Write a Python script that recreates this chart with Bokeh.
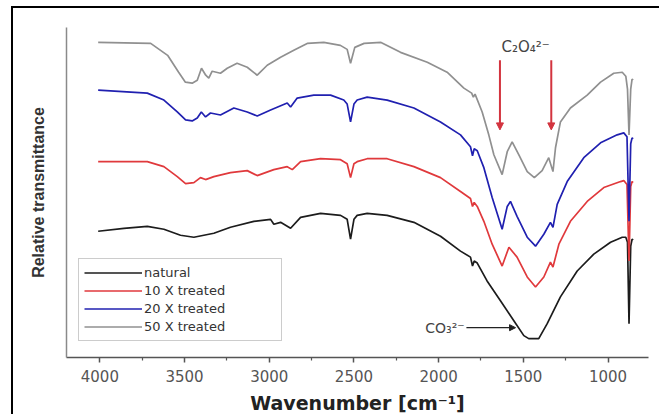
from bokeh.plotting import figure
from bokeh.models import Range1d, FixedTicker, Arrow, NormalHead, Label
from bokeh.embed import file_html
from bokeh.resources import INLINE

# ---- data ----
series_names = ["natural", "10 X treated", "20 X treated", "50 X treated"]
series_colors = ["#1c1c1c", "#e0393c", "#2020b0", "#909090"]

wn_natural = [4010, 3858, 3720, 3622, 3524, 3445, 3327, 3229, 3091, 2992, 2973, 2933, 2874, 2815,
              2697, 2579, 2540, 2520, 2500, 2481, 2422, 2304, 2146, 1989, 1871, 1812, 1800, 1790,
              1772, 1714, 1635, 1556, 1497, 1468, 1409, 1359, 1281, 1182, 1084, 985, 916, 895, 885,
              876, 866, 858, 852]
tr_natural = [127, 130, 132, 129, 123, 121, 125, 131, 137, 139, 134, 136, 130, 141,
              145, 143, 139, 119, 139, 143, 145, 143, 136, 122, 107, 101, 92, 97,
              95, 77, 57, 37, 22, 19, 19, 34, 61, 87, 104, 116, 121, 121, 116,
              34, 112, 119, 118]

wn_10x = [4010, 3720, 3622, 3543, 3494, 3445, 3406, 3376, 3327, 3229, 3130, 3071, 2973, 2894,
          2864, 2815, 2697, 2579, 2540, 2520, 2500, 2481, 2422, 2304, 2146, 1989, 1871, 1812,
          1800, 1790, 1772, 1733, 1684, 1625, 1585, 1537, 1477, 1428, 1379, 1340, 1325, 1290,
          1222, 1123, 1025, 926, 907, 888, 876, 866, 858, 852]
tr_10x = [197, 197, 192, 182, 175, 176, 181, 179, 182, 186, 188, 183, 189, 192,
          189, 197, 200, 199, 195, 181, 195, 197, 200, 200, 192, 181, 167, 160,
          152, 156, 152, 137, 114, 92, 111, 101, 81, 71, 81, 96, 91, 114,
          137, 157, 171, 177, 178, 174, 97, 172, 177, 176]

wn_20x = [4010, 3720, 3622, 3543, 3494, 3455, 3425, 3401, 3376, 3347, 3288, 3209, 3130, 3071,
          2992, 2894, 2874, 2835, 2737, 2638, 2560, 2540, 2520, 2500, 2481, 2422, 2304, 2146,
          1989, 1871, 1812, 1800, 1790, 1772, 1733, 1684, 1625, 1595, 1576, 1537, 1477, 1428,
          1379, 1340, 1325, 1300, 1241, 1143, 1044, 946, 907, 888, 876, 866, 858, 852]
tr_20x = [269, 266, 259, 247, 239, 238, 241, 247, 242, 246, 244, 251, 247, 243,
          249, 256, 252, 261, 264, 264, 259, 255, 237, 255, 259, 262, 259, 251,
          237, 224, 212, 203, 210, 208, 191, 161, 129, 152, 157, 142, 121, 112,
          124, 136, 131, 154, 177, 201, 216, 224, 226, 222, 137, 215, 221, 220]

wn_50x = [4010, 3700, 3600, 3535, 3495, 3455, 3425, 3400, 3375, 3357, 3337, 3288, 3248, 3190,
          3130, 3071, 3012, 2933, 2855, 2776, 2678, 2580, 2540, 2520, 2495, 2440, 2340, 2225,
          2067, 1950, 1851, 1805, 1795, 1785, 1743, 1704, 1674, 1625, 1595, 1566, 1527, 1477,
          1435, 1389, 1350, 1325, 1310, 1281, 1222, 1123, 1044, 966, 916, 895, 885, 876, 866,
          858, 852]
tr_50x = [317, 316, 304, 287, 277, 276, 279, 291, 284, 281, 288, 286, 291, 296,
          292, 284, 294, 302, 309, 316, 317, 314, 310, 296, 312, 316, 317, 307,
          297, 287, 271, 266, 262, 265, 247, 224, 204, 184, 207, 217, 204, 187,
          181, 188, 201, 187, 211, 237, 251, 264, 277, 286, 287, 283, 270, 224, 270,
          280, 279]

x_ticks = [4000, 3500, 3000, 2500, 2000, 1500, 1000]
x_minor_ticks = [3750, 3250, 2750, 2250, 1750, 1250]

oxalate_bands = [1638, 1335]      # C2O4 2- arrows
carbonate_arrow = [1836, 1546]    # CO3 2- arrow (from, to)

# ---- figure ----
p = figure(width=648, height=408,
           x_range=Range1d(4197, 761), y_range=Range1d(0, 332),
           output_backend="svg", toolbar_location=None,
           min_border_left=53, min_border_right=13, min_border_top=19, min_border_bottom=57)
p.styles = {"margin-left": "11px", "margin-top": "6px",
            "border-left": "2px solid black", "border-top": "2px solid black"}
p.background_fill_color = "white"
p.border_fill_color = "white"
p.outline_line_color = None
p.xgrid.grid_line_color = None
p.ygrid.grid_line_color = None

all_wn = [wn_natural, wn_10x, wn_20x, wn_50x]
all_tr = [tr_natural, tr_10x, tr_20x, tr_50x]
for wn, tr, name, col in zip(all_wn, all_tr, series_names, series_colors):
    p.line(wn, tr, line_color=col, line_width=1.7, legend_label=name)

# x axis
xa = p.xaxis[0]
xa.ticker = FixedTicker(ticks=x_ticks, minor_ticks=x_minor_ticks)
xa.axis_line_color = "#555555"
xa.axis_line_width = 1.5
xa.major_tick_line_color = "#555555"
xa.major_tick_line_width = 1.5
xa.major_tick_out = 5
xa.major_tick_in = 0
xa.minor_tick_line_color = "#555555"
xa.minor_tick_line_width = 1.2
xa.minor_tick_out = 3
xa.minor_tick_in = 0
xa.major_label_text_font = "DejaVu Sans"
xa.major_label_text_font_size = "15px"
xa.major_label_text_color = "#555555"
xa.major_label_standoff = 7
xa.axis_label = "Wavenumber [cm\u207b\u00b9]"
xa.axis_label_text_font = "DejaVu Sans"
xa.axis_label_text_font_size = "19px"
xa.axis_label_text_font_style = "bold"
xa.axis_label_text_color = "#222222"
xa.axis_label_standoff = 7

# y axis
ya = p.yaxis[0]
ya.ticker = FixedTicker(ticks=[])
ya.axis_line_color = "#8a8a8a"
ya.axis_line_width = 1.5
ya.major_tick_line_color = None
ya.minor_tick_line_color = None
ya.axis_label = "Relative transmittance"
ya.axis_label_text_font = "Liberation Sans"
ya.axis_label_text_font_size = "16px"
ya.axis_label_text_font_style = "bold"
ya.axis_label_text_color = "#333333"
ya.axis_label_standoff = 20

# legend
lg = p.legend[0]
lg.location = (12, 16)
lg.border_line_color = "#9a9a9a"
lg.border_line_width = 1
lg.background_fill_color = "white"
lg.background_fill_alpha = 1
lg.padding = 5
lg.spacing = 1
lg.margin = 0
lg.glyph_width = 58
lg.glyph_height = 17
lg.label_height = 17
lg.label_width = 132
lg.label_standoff = 2
lg.label_text_font = "DejaVu Sans"
lg.label_text_font_size = "13px"
lg.label_text_color = "#333333"

# annotations
red_arrow = "#d3343f"
for wn in oxalate_bands:
    p.add_layout(Arrow(x_start=wn, y_start=299, x_end=wn, y_end=229,
                       line_color=red_arrow, line_width=2,
                       end=NormalHead(size=7, fill_color=red_arrow, line_color=red_arrow)))
p.add_layout(Label(x=sum(oxalate_bands) / 2, y=312, text="C\u2082O\u2084\u00b2\u207b",
                   text_align="center", text_baseline="middle",
                   text_font="DejaVu Sans", text_font_size="15px", text_color="#444444"))

p.add_layout(Arrow(x_start=carbonate_arrow[0], y_start=30, x_end=carbonate_arrow[1], y_end=30,
                   line_color="#222222", line_width=1.2,
                   end=NormalHead(size=6, fill_color="#222222", line_color="#222222")))
p.add_layout(Label(x=carbonate_arrow[0] + 10, y=30, text="CO\u2083\u00b2\u207b",
                   text_align="right", text_baseline="middle",
                   text_font="DejaVu Sans", text_font_size="14px", text_color="#444444"))

open("out.html", "w").write(file_html(p, INLINE))
